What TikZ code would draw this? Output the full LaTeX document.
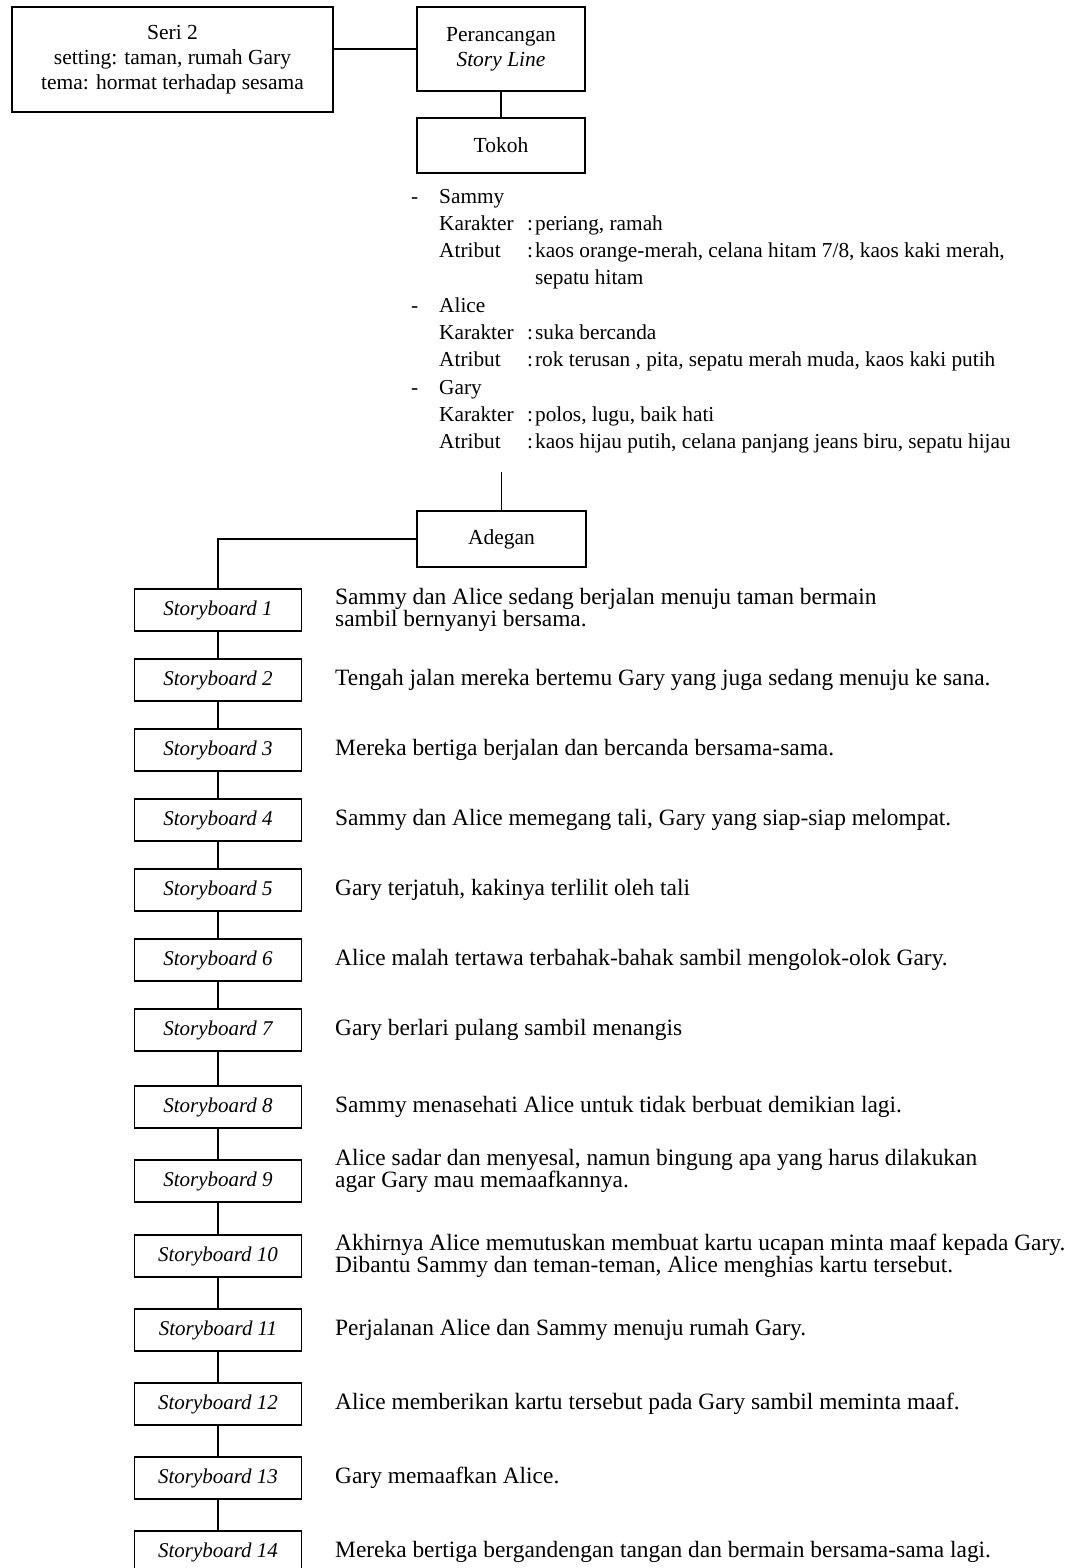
\documentclass[tikz,border=0pt]{standalone}
\usepackage{fontspec}
\setmainfont{Liberation Serif}
\begin{document}
\begin{tikzpicture}[x=1pt,y=-1pt,
  box/.style={draw, line width=1.5pt, inner sep=0pt, align=center, font=\fontsize{21.5}{25}\selectfont},
  sbbox/.style={draw, line width=1.5pt, inner sep=0pt, minimum width=167pt, minimum height=42pt, font=\fontsize{21}{24}\selectfont\itshape},
  desc/.style={anchor=west, inner sep=0pt, align=left, font={\fontsize{23.4}{21.5}\selectfont\lineskiplimit=-100pt}},
  lst/.style={anchor=base west, inner sep=0pt, font=\fontsize{21.3}{25}\selectfont},
  conn/.style={line width=1.5pt}]
\clip (0,0) rectangle (1070,1568);
\fill[white] (0,0) rectangle (1070,1568);
% top boxes
\node[box, minimum width=321pt, minimum height=105pt] (seri) at (172.5,59.5) {Seri 2\\setting: taman, rumah Gary\\tema: hormat terhadap sesama};
\node[box, minimum width=168pt, minimum height=84pt] (per) at (501,49) {Perancangan\\\textit{Story Line}};
\node[box, minimum width=168pt, minimum height=55pt] (tokoh) at (501,145.5) {Tokoh};
\draw[conn] (per.west) -- (per.west -| seri.east);
\draw[conn] (per.south) -- (tokoh.north);
% character list
\node[lst] (d1) at (411,203) {-};
\node[lst] (n1) at (439,203) {Sammy};
\node[lst] (k1) at (439,230.3) {\makebox[88pt][l]{Karakter}:\hspace{2pt}periang, ramah};
\node[lst] (a1) at (439,257.6) {\makebox[88pt][l]{Atribut}:\hspace{2pt}kaos orange-merah, celana hitam 7/8, kaos kaki merah,};
\node[lst] (a1b) at (535,284.9) {sepatu hitam};
\node[lst] (d2) at (411,312.2) {-};
\node[lst] (n2) at (439,312.2) {Alice};
\node[lst] (k2) at (439,339.5) {\makebox[88pt][l]{Karakter}:\hspace{2pt}suka bercanda};
\node[lst] (a2) at (439,366.8) {\makebox[88pt][l]{Atribut}:\hspace{2pt}rok terusan , pita, sepatu merah muda, kaos kaki putih};
\node[lst] (d3) at (411,394.1) {-};
\node[lst] (n3) at (439,394.1) {Gary};
\node[lst] (k3) at (439,421.4) {\makebox[88pt][l]{Karakter}:\hspace{2pt}polos, lugu, baik hati};
\node[lst] (a3) at (439,448.7) {\makebox[88pt][l]{Atribut}:\hspace{2pt}kaos hijau putih, celana panjang jeans biru, sepatu hijau};
% adegan
\coordinate (adtop) at (501.5,472);
\node[box, minimum width=169pt, minimum height=56pt] (adegan) at (501.5,539) {Adegan};
\draw[conn] (adtop) -- (adegan.north);
% storyboards
\node[sbbox] (sb1) at (218,610) {Storyboard 1};
\node[sbbox] (sb2) at (218,680) {Storyboard 2};
\node[sbbox] (sb3) at (218,750) {Storyboard 3};
\node[sbbox] (sb4) at (218,820) {Storyboard 4};
\node[sbbox] (sb5) at (218,890) {Storyboard 5};
\node[sbbox] (sb6) at (218,960) {Storyboard 6};
\node[sbbox] (sb7) at (218,1030) {Storyboard 7};
\node[sbbox] (sb8) at (218,1107) {Storyboard 8};
\node[sbbox] (sb9) at (218,1181) {Storyboard 9};
\node[sbbox] (sb10) at (218,1256) {Storyboard 10};
\node[sbbox] (sb11) at (218,1330) {Storyboard 11};
\node[sbbox] (sb12) at (218,1404) {Storyboard 12};
\node[sbbox] (sb13) at (218,1478) {Storyboard 13};
\node[sbbox] (sb14) at (218,1552) {Storyboard 14};
\draw[conn] (adegan.west) -- (adegan.west -| sb1.north) -- (sb1.north);
\foreach \i [evaluate=\i as \j using int(\i+1)] in {1,...,13}
  \draw[conn] (sb\i.south) -- (sb\j.north);
% descriptions
\node[desc] (t1) at (335,610) {Sammy dan Alice sedang berjalan menuju taman bermain\\sambil bernyanyi bersama.};
\node[desc] (t2) at (335,680) {Tengah jalan mereka bertemu Gary yang juga sedang menuju ke sana.};
\node[desc] (t3) at (335,750) {Mereka bertiga berjalan dan bercanda bersama-sama.};
\node[desc] (t4) at (335,820) {Sammy dan Alice memegang tali, Gary yang siap-siap melompat.};
\node[desc] (t5) at (335,890) {Gary terjatuh, kakinya terlilit oleh tali};
\node[desc] (t6) at (335,960) {Alice malah tertawa terbahak-bahak sambil mengolok-olok Gary.};
\node[desc] (t7) at (335,1030) {Gary berlari pulang sambil menangis};
\node[desc] (t8) at (335,1107) {Sammy menasehati Alice untuk tidak berbuat demikian lagi.};
\node[desc] (t9) at (335,1171) {Alice sadar dan menyesal, namun bingung apa yang harus dilakukan\\agar Gary mau memaafkannya.};
\node[desc] (t10) at (335,1256) {Akhirnya Alice memutuskan membuat kartu ucapan minta maaf kepada Gary.\\Dibantu Sammy dan teman-teman, Alice menghias kartu tersebut.};
\node[desc] (t11) at (335,1330) {Perjalanan Alice dan Sammy menuju rumah Gary.};
\node[desc] (t12) at (335,1404) {Alice memberikan kartu tersebut pada Gary sambil meminta maaf.};
\node[desc] (t13) at (335,1478) {Gary memaafkan Alice.};
\node[desc] (t14) at (335,1552) {Mereka bertiga bergandengan tangan dan bermain bersama-sama lagi.};
\end{tikzpicture}
\end{document}
